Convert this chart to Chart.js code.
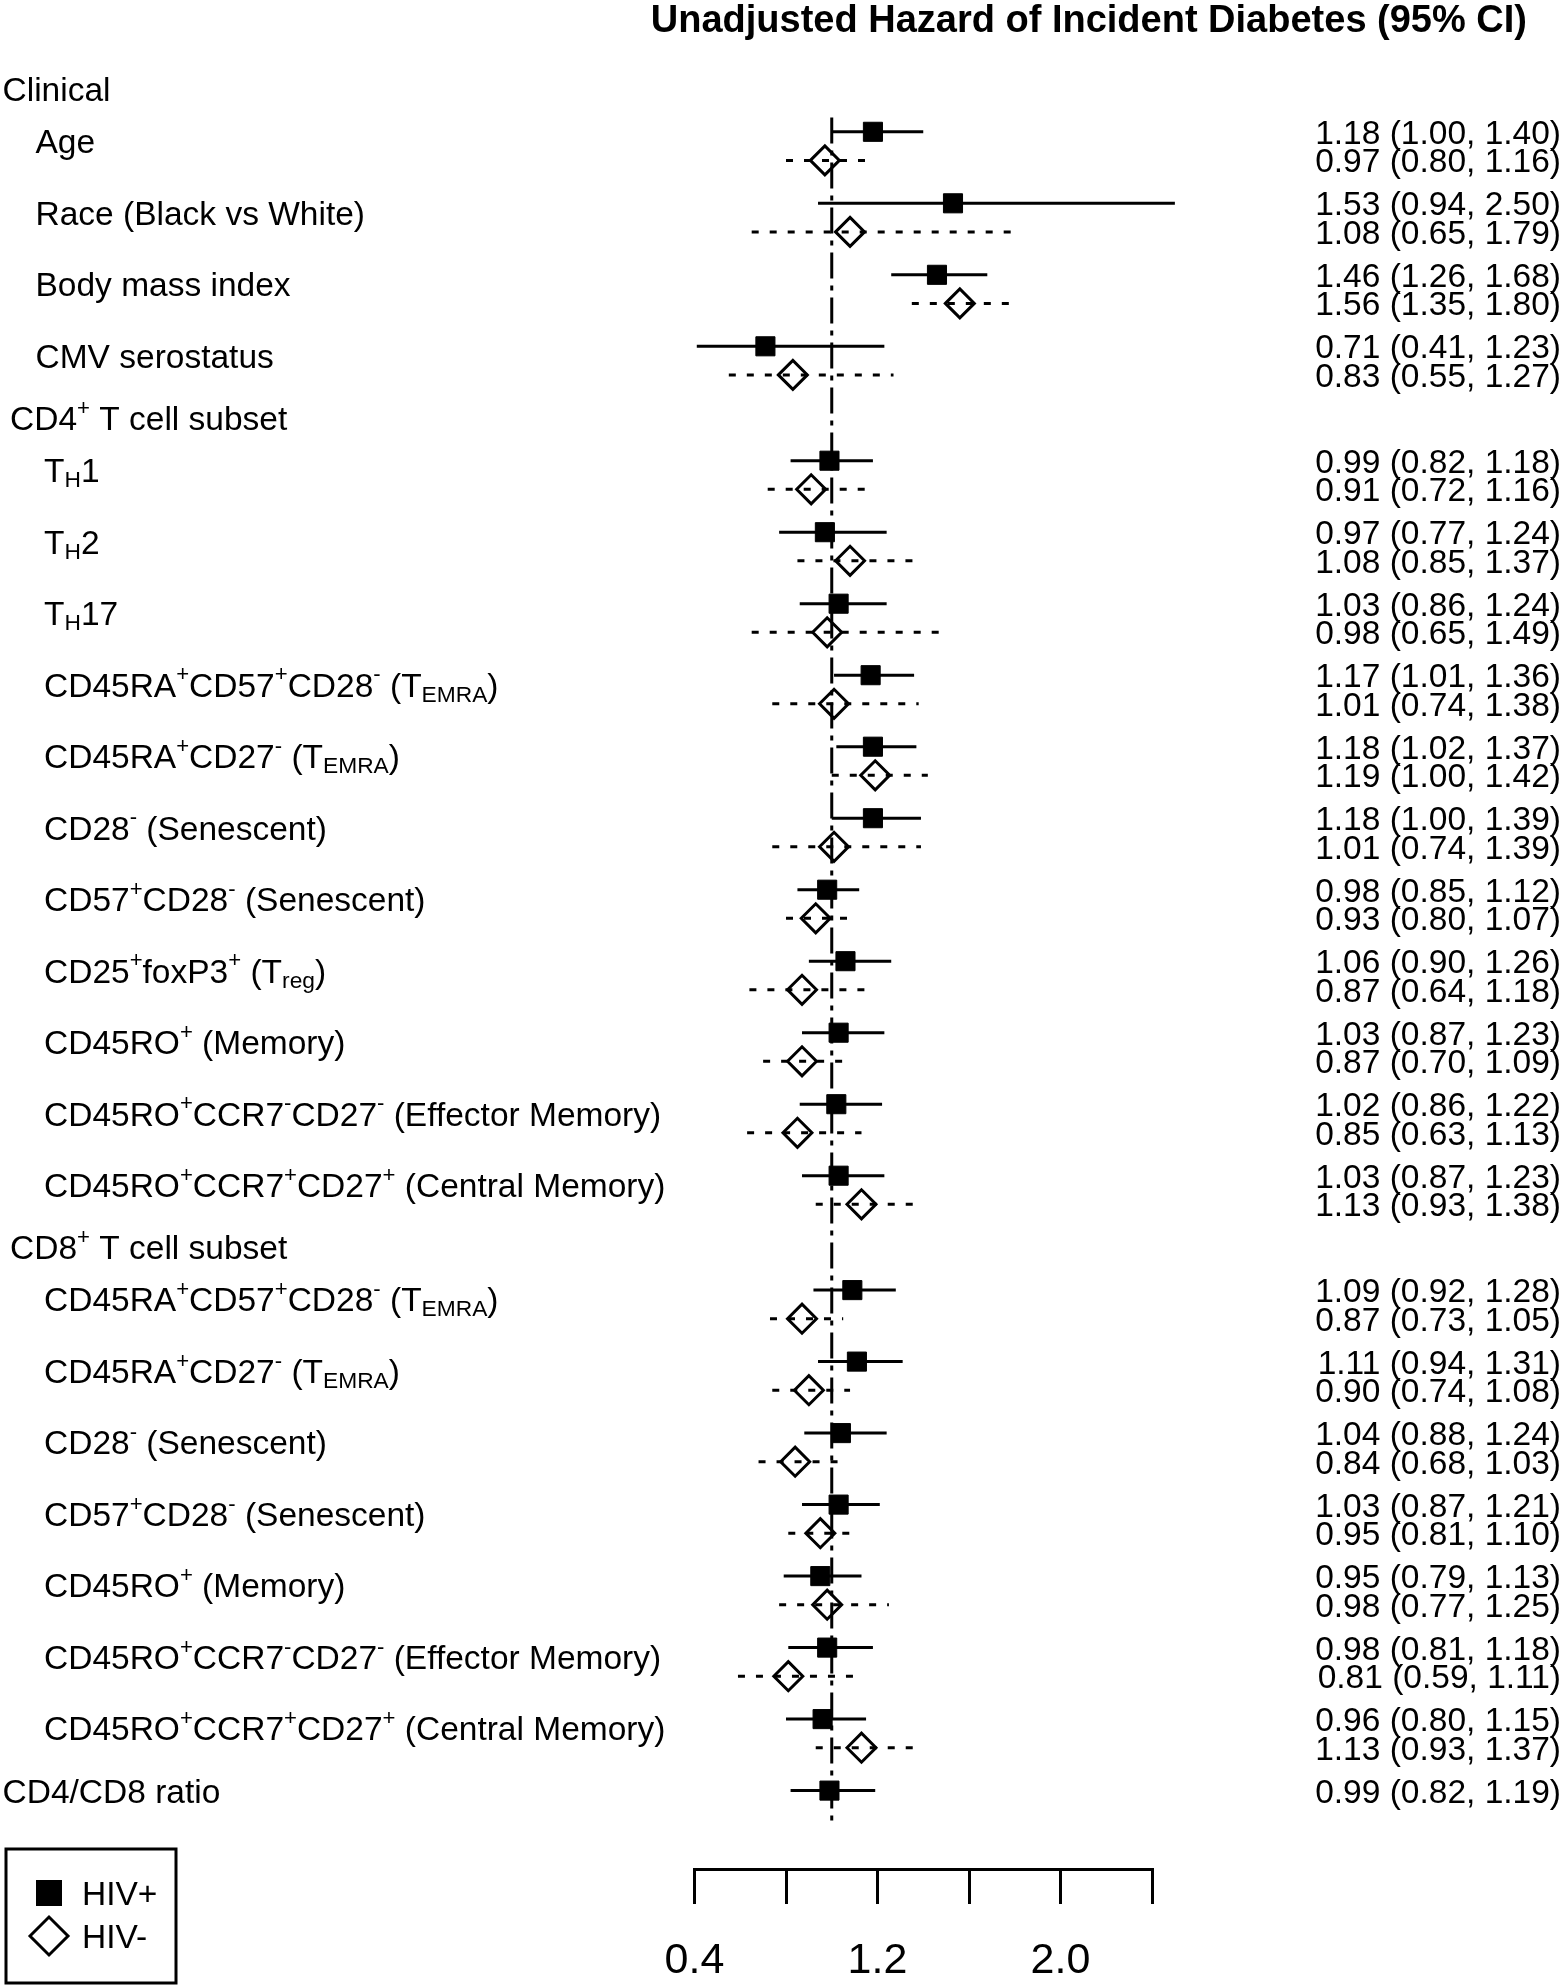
<!DOCTYPE html>
<html>
<head>
<meta charset="utf-8">
<title>Unadjusted Hazard of Incident Diabetes</title>
<script src="https://cdn.jsdelivr.net/npm/chart.js@4.4.1/dist/chart.umd.min.js"></script>
<style>
  html, body { margin: 0; padding: 0; background: #fff; }
  canvas { display: block; }
</style>
</head>
<body>
<canvas id="forest" width="1564" height="1987"></canvas>
<script>
// ---- data ----
const titleText = 'Unadjusted Hazard of Incident Diabetes (95% CI)';

const groupLabels = ['Clinical', 'CD4^{+} T cell subset', 'CD8^{+} T cell subset'];
const clinicalLabels = ['Age', 'Race (Black vs White)', 'Body mass index', 'CMV serostatus'];
const cd4Labels = [
    'T_{H}1', 'T_{H}2', 'T_{H}17',
    'CD45RA^{+}CD57^{+}CD28^{-} (T_{EMRA})',
    'CD45RA^{+}CD27^{-} (T_{EMRA})',
    'CD28^{-} (Senescent)',
    'CD57^{+}CD28^{-} (Senescent)',
    'CD25^{+}foxP3^{+} (T_{reg})',
    'CD45RO^{+} (Memory)',
    'CD45RO^{+}CCR7^{-}CD27^{-} (Effector Memory)',
    'CD45RO^{+}CCR7^{+}CD27^{+} (Central Memory)'
];
const cd8Labels = [
    'CD45RA^{+}CD57^{+}CD28^{-} (T_{EMRA})',
    'CD45RA^{+}CD27^{-} (T_{EMRA})',
    'CD28^{-} (Senescent)',
    'CD57^{+}CD28^{-} (Senescent)',
    'CD45RO^{+} (Memory)',
    'CD45RO^{+}CCR7^{-}CD27^{-} (Effector Memory)',
    'CD45RO^{+}CCR7^{+}CD27^{+} (Central Memory)'
];
const ratioLabel = 'CD4/CD8 ratio';

// HIV+ (all 23 variables, last one is the CD4/CD8 ratio)
const hivPosHR = [1.18, 1.53, 1.46, 0.71, 0.99, 0.97, 1.03, 1.17, 1.18, 1.18, 0.98, 1.06, 1.03, 1.02, 1.03, 1.09, 1.11, 1.04, 1.03, 0.95, 0.98, 0.96, 0.99];
const hivPosLo = [1.00, 0.94, 1.26, 0.41, 0.82, 0.77, 0.86, 1.01, 1.02, 1.00, 0.85, 0.90, 0.87, 0.86, 0.87, 0.92, 0.94, 0.88, 0.87, 0.79, 0.81, 0.80, 0.82];
const hivPosHi = [1.40, 2.50, 1.68, 1.23, 1.18, 1.24, 1.24, 1.36, 1.37, 1.39, 1.12, 1.26, 1.23, 1.22, 1.23, 1.28, 1.31, 1.24, 1.21, 1.13, 1.18, 1.15, 1.19];
// HIV- (no estimate for the ratio)
const hivNegHR = [0.97, 1.08, 1.56, 0.83, 0.91, 1.08, 0.98, 1.01, 1.19, 1.01, 0.93, 0.87, 0.87, 0.85, 1.13, 0.87, 0.90, 0.84, 0.95, 0.98, 0.81, 1.13, null];
const hivNegLo = [0.80, 0.65, 1.35, 0.55, 0.72, 0.85, 0.65, 0.74, 1.00, 0.74, 0.80, 0.64, 0.70, 0.63, 0.93, 0.73, 0.74, 0.68, 0.81, 0.77, 0.59, 0.93, null];
const hivNegHi = [1.16, 1.79, 1.80, 1.27, 1.16, 1.37, 1.49, 1.38, 1.42, 1.39, 1.07, 1.18, 1.09, 1.13, 1.38, 1.05, 1.08, 1.03, 1.10, 1.25, 1.11, 1.37, null];

const refValue = 1;
const xTickValues = [0.4, 0.8, 1.2, 1.6, 2.0, 2.4];
const xTickLabels = ['0.4', '', '1.2', '', '2.0', ''];
const legendLabels = ['HIV+', 'HIV-'];

// ---- layout (pixels) ----
const W = 1564;
const FONT = '"Liberation Sans", Arial, Helvetica, sans-serif';
const FONT_SIZE = 33.5;
const PLOT_LEFT = 694.5;   // x = 0.4
const PLOT_RIGHT = 1152;   // x = 2.4
const PLOT_TOP = 60;
const AXIS_Y = 1869;
const ROW0 = 88.9;         // pixel of row unit 0
const ROW_H = 28.6;        // pixels per row unit
const yMin = (PLOT_TOP - ROW0) / ROW_H;
const yMax = (AXIS_Y - ROW0) / ROW_H;

// build row positions (in row units) for headers and variables
const rows = [];
let vIndex = 0;
let u = 0;
function addHeader(label, indent) {
    rows.push({ kind: 'header', label: label, u: u, x: indent });
    u += 1.5;
}
function addVars(labels, indent) {
    labels.forEach(label => {
        rows.push({ kind: 'var', label: label, u: u, x: indent, i: vIndex++ });
        u += 2.5;
    });
}
addHeader(groupLabels[0], 2.5);
addVars(clinicalLabels, 35.5);
addHeader(groupLabels[1], 10);
addVars(cd4Labels, 44);
addHeader(groupLabels[2], 10);
addVars(cd8Labels, 44);
rows.push({ kind: 'single', label: ratioLabel, u: u, x: 2.5, i: vIndex++ });

const varRows = rows.filter(r => r.kind !== 'header');

// error bar segments, separated by gaps
function segments(lo, hi, offset) {
    const pts = [];
    varRows.forEach(r => {
        if (lo[r.i] === null) return;
        pts.push({ x: lo[r.i], y: r.u + offset });
        pts.push({ x: hi[r.i], y: r.u + offset });
        pts.push({ x: null, y: null });
    });
    return pts;
}
function points(est, offset) {
    return varRows.filter(r => est[r.i] !== null).map(r => ({ x: est[r.i], y: r.u + offset }));
}

const lastRow = varRows[varRows.length - 1].u;

// ---- text drawing with super/subscripts ----
function drawRich(ctx, markup, x, baseline, size) {
    const re = /\^\{([^}]*)\}|_\{([^}]*)\}|([^^_]+)/g;
    let m;
    ctx.textAlign = 'left';
    ctx.textBaseline = 'alphabetic';
    while ((m = re.exec(markup)) !== null) {
        let txt, fs, dy;
        if (m[1] !== undefined) { txt = m[1]; fs = size * 0.66; dy = -size * 0.45; }
        else if (m[2] !== undefined) { txt = m[2]; fs = size * 0.68; dy = size * 0.15; }
        else { txt = m[3]; fs = size; dy = 0; }
        ctx.font = fs + 'px ' + FONT;
        ctx.fillText(txt, x, baseline + dy);
        x += ctx.measureText(txt).width;
    }
}

function fmt(v) { return v.toFixed(2); }

const textPlugin = {
    id: 'forestText',
    afterDraw: function(chart) {
        const ctx = chart.ctx;
        const ys = chart.scales.y;
        ctx.save();
        ctx.fillStyle = '#000';
        ctx.strokeStyle = '#000';

        // title
        ctx.font = 'bold 38px ' + FONT;
        ctx.textAlign = 'right';
        ctx.textBaseline = 'alphabetic';
        ctx.fillText(titleText, 1527, 32);

        // row labels and estimates
        rows.forEach(r => {
            const py = ys.getPixelForValue(r.u);
            if (r.kind === 'header' || r.kind === 'single') {
                drawRich(ctx, r.label, r.x, py + 12, FONT_SIZE);
            } else {
                drawRich(ctx, r.label, r.x, ys.getPixelForValue(r.u + 0.5) + 7, FONT_SIZE);
            }
            if (r.kind === 'header') return;
            ctx.font = FONT_SIZE + 'px ' + FONT;
            ctx.textAlign = 'right';
            ctx.fillText(fmt(hivPosHR[r.i]) + ' (' + fmt(hivPosLo[r.i]) + ', ' + fmt(hivPosHi[r.i]) + ')', 1561, py + 12);
            if (hivNegHR[r.i] !== null) {
                const py2 = ys.getPixelForValue(r.u + 1);
                ctx.fillText(fmt(hivNegHR[r.i]) + ' (' + fmt(hivNegLo[r.i]) + ', ' + fmt(hivNegHi[r.i]) + ')', 1561, py2 + 12);
            }
        });

        // legend box
        ctx.lineWidth = 3;
        ctx.strokeRect(6, 1849, 170, 134);
        ctx.fillRect(36, 1880, 26, 26);
        ctx.beginPath();
        ctx.moveTo(30, 1936);
        ctx.lineTo(49, 1917);
        ctx.lineTo(68, 1936);
        ctx.lineTo(49, 1955);
        ctx.closePath();
        ctx.stroke();
        ctx.font = FONT_SIZE + 'px ' + FONT;
        ctx.textAlign = 'left';
        ctx.fillText(legendLabels[0], 82, 1905);
        ctx.fillText(legendLabels[1], 82, 1948);
        ctx.restore();
    }
};

Chart.defaults.font.family = FONT;
Chart.defaults.color = '#000';

const ctx = document.getElementById('forest').getContext('2d');
new Chart(ctx, {
    type: 'scatter',
    data: {
        datasets: [
            {
                label: legendLabels[0],
                data: points(hivPosHR, 0),
                pointStyle: 'rect',
                pointRadius: 13.5,
                backgroundColor: '#000',
                borderColor: '#000',
                borderWidth: 1,
                clip: false
            },
            {
                label: legendLabels[1],
                data: points(hivNegHR, 1),
                pointStyle: 'rectRot',
                pointRadius: 14.5,
                backgroundColor: 'rgba(0,0,0,0)',
                borderColor: '#000',
                borderWidth: 3,
                clip: false
            },
            {
                label: 'HIV+ CI',
                data: segments(hivPosLo, hivPosHi, 0),
                showLine: true,
                spanGaps: false,
                pointRadius: 0,
                borderColor: '#000',
                borderWidth: 3,
                clip: false
            },
            {
                label: 'HIV- CI',
                data: segments(hivNegLo, hivNegHi, 1),
                showLine: true,
                spanGaps: false,
                pointRadius: 0,
                borderColor: '#000',
                borderWidth: 3,
                borderDash: [7, 11],
                clip: false
            },
            {
                label: 'reference',
                data: [{ x: refValue, y: 1.0 }, { x: refValue, y: lastRow + 1.2 }],
                showLine: true,
                pointRadius: 0,
                borderColor: '#000',
                borderWidth: 3,
                borderDash: [26, 7, 5, 7],
                clip: false
            }
        ]
    },
    options: {
        responsive: false,
        animation: false,
        events: [],
        layout: {
            padding: { left: PLOT_LEFT, right: W - PLOT_RIGHT, top: PLOT_TOP, bottom: 0 }
        },
        plugins: {
            legend: { display: false },
            tooltip: { enabled: false },
            title: { display: false }
        },
        scales: {
            x: {
                type: 'linear',
                min: xTickValues[0],
                max: xTickValues[xTickValues.length - 1],
                afterBuildTicks: function(scale) {
                    scale.ticks = xTickValues.map(v => ({ value: v }));
                },
                afterFit: function(scale) {
                    scale.height = 1987 - AXIS_Y;
                },
                grid: {
                    display: true,
                    drawOnChartArea: false,
                    drawTicks: true,
                    tickLength: 35,
                    color: '#000',
                    lineWidth: 3
                },
                border: { display: true, color: '#000', width: 3 },
                ticks: {
                    autoSkip: false,
                    maxRotation: 0,
                    padding: 31,
                    color: '#000',
                    font: { size: 43 },
                    callback: function(value, index) { return xTickLabels[index]; }
                }
            },
            y: {
                type: 'linear',
                display: false,
                reverse: true,
                min: yMin,
                max: yMax
            }
        }
    },
    plugins: [textPlugin]
});
</script>
</body>
</html>
